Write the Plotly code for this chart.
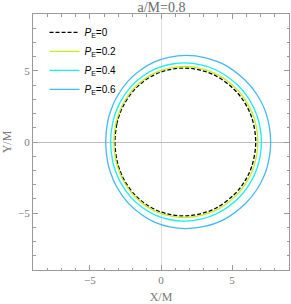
import plotly.graph_objects as go

title = "a/M=0.8"
labels = ["0", "0.2", "0.4", "0.6"]
colors = ["black", "#c4ee1c", "#14f0f0", "#44b8f2"]

# upper half of each shadow boundary (X/M, Y/M)
x_pe0 = [-3.24, -3.11, -2.94, -2.60, -1.90, -1.14, -0.31, 0.60, 1.60, 2.69, 3.88, 5.15, 5.83, 6.39, 6.66]
y_pe0 = [0.00, 1.25, 1.86, 2.65, 3.65, 4.32, 4.80, 5.09, 5.20, 5.07, 4.64, 3.69, 2.85, 1.69, 0.00]

x_pe2 = [-3.31, -3.18, -3.00, -2.66, -1.94, -1.16, -0.31, 0.62, 1.64, 2.75, 3.97, 5.27, 5.96, 6.53, 6.81]
y_pe2 = [0.00, 1.28, 1.90, 2.71, 3.73, 4.42, 4.91, 5.20, 5.31, 5.18, 4.74, 3.77, 2.91, 1.73, 0.00]

x_pe4 = [-3.54, -3.40, -3.22, -2.85, -2.10, -1.29, -0.40, 0.57, 1.64, 2.81, 4.08, 5.44, 6.17, 6.77, 7.06]
y_pe4 = [0.00, 1.34, 1.99, 2.84, 3.91, 4.62, 5.14, 5.45, 5.56, 5.42, 4.96, 3.95, 3.05, 1.81, 0.00]

x_pe6 = [-3.89, -3.74, -3.54, -3.14, -2.32, -1.43, -0.46, 0.61, 1.78, 3.06, 4.45, 5.94, 6.74, 7.40, 7.71]
y_pe6 = [0.00, 1.47, 2.18, 3.11, 4.28, 5.06, 5.63, 5.97, 6.09, 5.94, 5.44, 4.32, 3.34, 1.98, 0.00]

curves = [(x_pe0, y_pe0), (x_pe2, y_pe2), (x_pe4, y_pe4), (x_pe6, y_pe6)]

tick_vals = [-5, 0, 5]
tick_text = ["\u22125", "0", "5"]

fig = go.Figure()
for i, (xs, ys) in enumerate(curves):
    # close the curve using the up-down symmetry of the shadow
    X = xs + xs[-2:0:-1] + [xs[0]]
    Y = ys + [-v for v in ys[-2:0:-1]] + [ys[0]]
    fig.add_trace(go.Scatter(
        x=X, y=Y, mode="lines",
        line=dict(color=colors[i], width=1.3, shape="spline",
                  dash="4px,2px" if i == 0 else "solid"),
        name="<i>P</i><sub>E</sub>=" + labels[i],
    ))

axis_common = dict(
    range=[-9, 9], showgrid=False, zeroline=True, zerolinewidth=1,
    showline=True, linecolor="#9a9a9a", linewidth=1, mirror="ticks",
    ticks="inside", ticklen=5, tickcolor="#9a9a9a", tickwidth=1,
    tickvals=tick_vals, ticktext=tick_text, automargin=False,
    minor=dict(dtick=1, ticks="inside", ticklen=2.5, tickcolor="#9a9a9a", tickwidth=1),
    tickfont=dict(family="Liberation Serif", size=11, color="#7a7a7a"),
    title_font=dict(family="Liberation Serif", size=12, color="#7a7a7a"),
)

fig.update_xaxes(**axis_common, zerolinecolor="#dddddd", title_text="X/M")
fig.update_yaxes(**axis_common, zerolinecolor="#bbbbbb", title_text="Y/M")

fig.update_layout(
    width=291, height=304,
    margin=dict(l=33, r=2, t=14, b=34, autoexpand=False),
    paper_bgcolor="white", plot_bgcolor="white",
    title=dict(text=title, x=0.555, xanchor="center", y=0.977, yanchor="middle",
               font=dict(family="Liberation Serif", size=14, color="#6a6a6a")),
    legend=dict(x=0.045, y=0.985, xanchor="left", yanchor="top",
                bgcolor="rgba(0,0,0,0)", borderwidth=0,
                font=dict(family="Liberation Sans", size=10, color="black"),
                tracegroupgap=0),
    showlegend=True,
)

fig.write_html("out.html", config={"displayModeBar": False},
               post_script="document.body.style.margin='0';document.body.style.overflow='hidden';")
